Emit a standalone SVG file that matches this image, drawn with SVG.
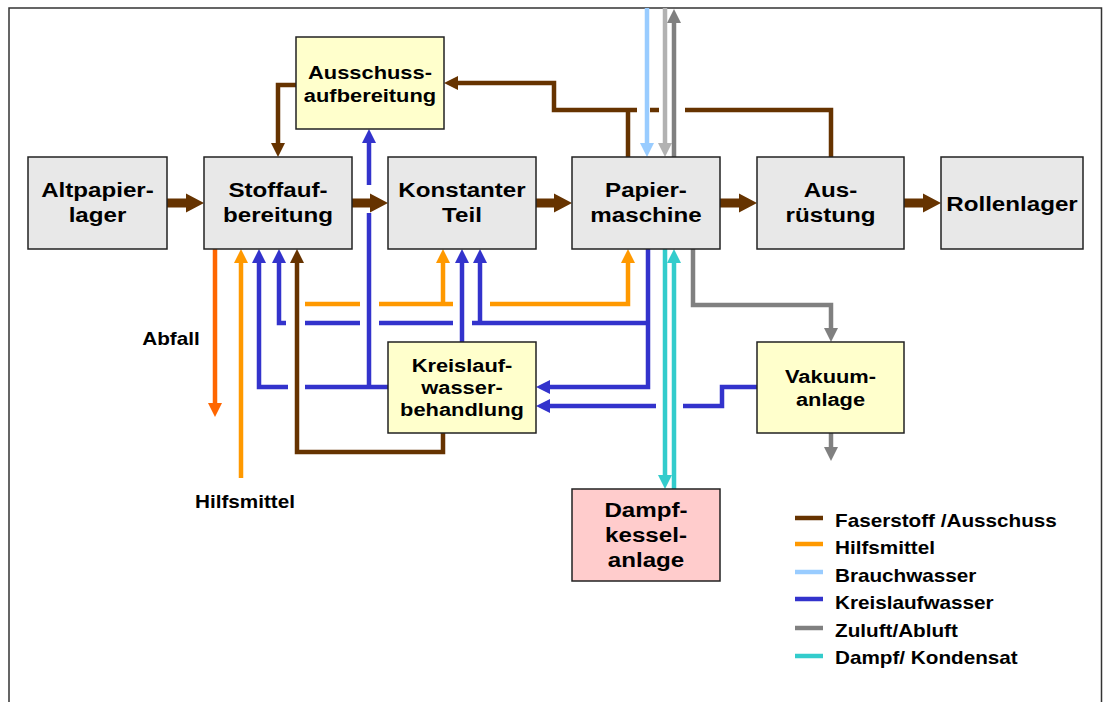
<svg xmlns="http://www.w3.org/2000/svg" width="1103" height="702" viewBox="0 0 1103 702">
<style>
.box{stroke:#222;stroke-width:1.5}
.g{fill:#e8e8e8}.y{fill:#ffffcc}.p{fill:#ffcccc}
text{font-family:"Liberation Sans",Arial,sans-serif;font-weight:bold;fill:#000}
.t21{font-size:21px}.t19{font-size:19px}.t18{font-size:18px}
.ln{fill:none;stroke-width:4.5;stroke-linejoin:miter}
.br{stroke:#663300}.or{stroke:#ff9900}.rd{stroke:#ff6600}.lb{stroke:#99ccff}
.bl{stroke:#3333cc}.gr{stroke:#808080}.lg{stroke:#b2b2b2}.cy{stroke:#33cccc}
</style>
<defs>
<marker id="mBr" markerUnits="userSpaceOnUse" markerWidth="16" markerHeight="16" refX="4" refY="0" viewBox="0 -8 16 16" orient="auto" overflow="visible"><path d="M0,-7 L14,0 L0,7 z" fill="#663300"/></marker>
<marker id="mOr" markerUnits="userSpaceOnUse" markerWidth="16" markerHeight="16" refX="4" refY="0" viewBox="0 -8 16 16" orient="auto" overflow="visible"><path d="M0,-7 L14,0 L0,7 z" fill="#ff9900"/></marker>
<marker id="mRd" markerUnits="userSpaceOnUse" markerWidth="16" markerHeight="16" refX="4" refY="0" viewBox="0 -8 16 16" orient="auto" overflow="visible"><path d="M0,-7 L14,0 L0,7 z" fill="#ff6600"/></marker>
<marker id="mLb" markerUnits="userSpaceOnUse" markerWidth="16" markerHeight="16" refX="4" refY="0" viewBox="0 -8 16 16" orient="auto" overflow="visible"><path d="M0,-7 L14,0 L0,7 z" fill="#99ccff"/></marker>
<marker id="mBl" markerUnits="userSpaceOnUse" markerWidth="16" markerHeight="16" refX="4" refY="0" viewBox="0 -8 16 16" orient="auto" overflow="visible"><path d="M0,-7 L14,0 L0,7 z" fill="#3333cc"/></marker>
<marker id="mGr" markerUnits="userSpaceOnUse" markerWidth="16" markerHeight="16" refX="4" refY="0" viewBox="0 -8 16 16" orient="auto" overflow="visible"><path d="M0,-7 L14,0 L0,7 z" fill="#808080"/></marker>
<marker id="mLg" markerUnits="userSpaceOnUse" markerWidth="16" markerHeight="16" refX="4" refY="0" viewBox="0 -8 16 16" orient="auto" overflow="visible"><path d="M0,-7 L14,0 L0,7 z" fill="#b2b2b2"/></marker>
<marker id="mCy" markerUnits="userSpaceOnUse" markerWidth="16" markerHeight="16" refX="4" refY="0" viewBox="0 -8 16 16" orient="auto" overflow="visible"><path d="M0,-7 L14,0 L0,7 z" fill="#33cccc"/></marker>
</defs>
<rect width="1103" height="702" fill="#fff"/>
<path d="M9,702 V8 H1101.5 V702" fill="none" stroke="#333" stroke-width="1.5"/>

<g id="connectors">
  <!-- thick brown main-flow arrows -->
  <g fill="#663300">
    <polygon points="167,198.5 186,198.5 186,193.5 204,203 186,212.5 186,207.5 167,207.5"/>
    <polygon points="352,198.5 370,198.5 370,193.5 388,203 370,212.5 370,207.5 352,207.5"/>
    <polygon points="536,198.5 554,198.5 554,193.5 572,203 554,212.5 554,207.5 536,207.5"/>
    <polygon points="720,198.5 739,198.5 739,193.5 757,203 739,212.5 739,207.5 720,207.5"/>
    <polygon points="904,198.5 923,198.5 923,193.5 941,203 923,212.5 923,207.5 904,207.5"/>
  </g>
  <!-- brown -->
  <path class="ln br" d="M296,85 H278 V147" marker-end="url(#mBr)"/>
  <path class="ln br" d="M628,157 V110 M637,110 H554 V83 H454" marker-end="url(#mBr)"/>
  <path class="ln br" d="M831,157 V110 H685 M659,110 H650"/>
  <path class="ln br" d="M443,433 V452 H297 V259" marker-end="url(#mBr)"/>
  <!-- Abfall / Hilfsmittel -->
  <path class="ln rd" d="M215,249 V407" marker-end="url(#mRd)"/>
  <path class="ln or" d="M241,478 V259" marker-end="url(#mOr)"/>
  <!-- orange distribution -->
  <path class="ln or" d="M305,304 H360 M379,304 H453 M443,304 V259" marker-end="url(#mOr)"/>
  <path class="ln or" d="M490,304 H628 V259" marker-end="url(#mOr)"/>
  <!-- blue Kreislaufwasser -->
  <path class="ln bl" d="M388,387 H305 M288,387 H259 V259" marker-end="url(#mBl)"/>
  <path class="ln bl" d="M286,323 H279 V259" marker-end="url(#mBl)"/>
  <path class="ln bl" d="M305,323 H360 M379,323 H453 M472,323 H648"/>
  <path class="ln bl" d="M480,323 V259" marker-end="url(#mBl)"/>
  <path class="ln bl" d="M648,249 V387 H546" marker-end="url(#mBl)"/>
  <path class="ln bl" d="M369,387 V213 M369,185 V139" marker-end="url(#mBl)"/>
  <path class="ln bl" d="M462,342 V259" marker-end="url(#mBl)"/>
  <path class="ln bl" d="M757,387 H722 V406 H683 M656,406 H546" marker-end="url(#mBl)"/>
  <!-- Brauchwasser / Zuluft / Abluft -->
  <path class="ln lb" d="M647,8 V147" marker-end="url(#mLb)"/>
  <path class="ln lg" d="M665,8 V147" marker-end="url(#mLg)"/>
  <path class="ln gr" d="M674,157 V19" marker-end="url(#mGr)"/>
  <path class="ln gr" d="M693,249 V305 H831 V332" marker-end="url(#mGr)"/>
  <path class="ln gr" d="M831,433 V451" marker-end="url(#mGr)"/>
  <!-- Dampf / Kondensat -->
  <path class="ln cy" d="M665,249 V479" marker-end="url(#mCy)"/>
  <path class="ln cy" d="M674,489 V259" marker-end="url(#mCy)"/>
</g>

<g id="altpapierlager">
  <rect class="box g" x="28" y="157" width="139" height="92"/>
  <text class="t21" text-anchor="middle" transform="translate(97.5,0) scale(1.15,1)"><tspan x="0" y="197">Altpapier-</tspan><tspan x="0" y="222">lager</tspan></text>
</g>
<g id="stoffaufbereitung">
  <rect class="box g" x="204" y="157" width="148" height="92"/>
  <text class="t21" text-anchor="middle" transform="translate(278,0) scale(1.15,1)"><tspan x="0" y="197">Stoffauf-</tspan><tspan x="0" y="222">bereitung</tspan></text>
</g>
<g id="konstanter-teil">
  <rect class="box g" x="388" y="157" width="148" height="92"/>
  <text class="t21" text-anchor="middle" transform="translate(462,0) scale(1.15,1)"><tspan x="0" y="197">Konstanter</tspan><tspan x="0" y="222">Teil</tspan></text>
</g>
<g id="papiermaschine">
  <rect class="box g" x="572" y="157" width="148" height="92"/>
  <text class="t21" text-anchor="middle" transform="translate(646,0) scale(1.15,1)"><tspan x="0" y="197">Papier-</tspan><tspan x="0" y="222">maschine</tspan></text>
</g>
<g id="ausruestung">
  <rect class="box g" x="757" y="157" width="147" height="92"/>
  <text class="t21" text-anchor="middle" transform="translate(830.5,0) scale(1.15,1)"><tspan x="0" y="197">Aus-</tspan><tspan x="0" y="222">rüstung</tspan></text>
</g>
<g id="rollenlager">
  <rect class="box g" x="941" y="157" width="142" height="92"/>
  <text class="t21" text-anchor="middle" transform="translate(1012,0) scale(1.15,1)"><tspan x="0" y="211">Rollenlager</tspan></text>
</g>
<g id="ausschussaufbereitung">
  <rect class="box y" x="296" y="37" width="148" height="92"/>
  <text class="t19" text-anchor="middle" transform="translate(370,0) scale(1.15,1)"><tspan x="0" y="79">Ausschuss-</tspan><tspan x="0" y="102">aufbereitung</tspan></text>
</g>
<g id="kreislaufwasserbehandlung">
  <rect class="box y" x="388" y="342" width="148" height="91"/>
  <text class="t19" text-anchor="middle" transform="translate(462,0) scale(1.15,1)"><tspan x="0" y="372">Kreislauf-</tspan><tspan x="0" y="394">wasser-</tspan><tspan x="0" y="416">behandlung</tspan></text>
</g>
<g id="vakuumanlage">
  <rect class="box y" x="757" y="342" width="147" height="91"/>
  <text class="t19" text-anchor="middle" transform="translate(830.5,0) scale(1.15,1)"><tspan x="0" y="383">Vakuum-</tspan><tspan x="0" y="406">anlage</tspan></text>
</g>
<g id="dampfkesselanlage">
  <rect class="box p" x="572" y="489" width="148" height="92"/>
  <text class="t21" text-anchor="middle" transform="translate(646,0) scale(1.15,1)"><tspan x="0" y="517">Dampf-</tspan><tspan x="0" y="542">kessel-</tspan><tspan x="0" y="567">anlage</tspan></text>
</g>

<g id="labels">
  <text class="t18" text-anchor="middle" transform="translate(171,0) scale(1.15,1)" x="0" y="345">Abfall</text>
  <text class="t18" text-anchor="middle" transform="translate(245,0) scale(1.15,1)" x="0" y="508">Hilfsmittel</text>
</g>

<g id="legend">
  <path class="ln br" d="M795,518 H823"/>
  <path class="ln or" d="M795,544 H823"/>
  <path class="ln lb" d="M795,572 H823"/>
  <path class="ln bl" d="M795,599 H823"/>
  <path class="ln gr" d="M795,628 H823"/>
  <path class="ln cy" d="M795,656 H823"/>
  <g transform="translate(835,0) scale(1.15,1)">
    <text class="t18" x="0" y="527">Faserstoff /Ausschuss</text>
    <text class="t18" x="0" y="554">Hilfsmittel</text>
    <text class="t18" x="0" y="582">Brauchwasser</text>
    <text class="t18" x="0" y="609">Kreislaufwasser</text>
    <text class="t18" x="0" y="637">Zuluft/Abluft</text>
    <text class="t18" x="0" y="664">Dampf/ Kondensat</text>
  </g>
</g>
</svg>
